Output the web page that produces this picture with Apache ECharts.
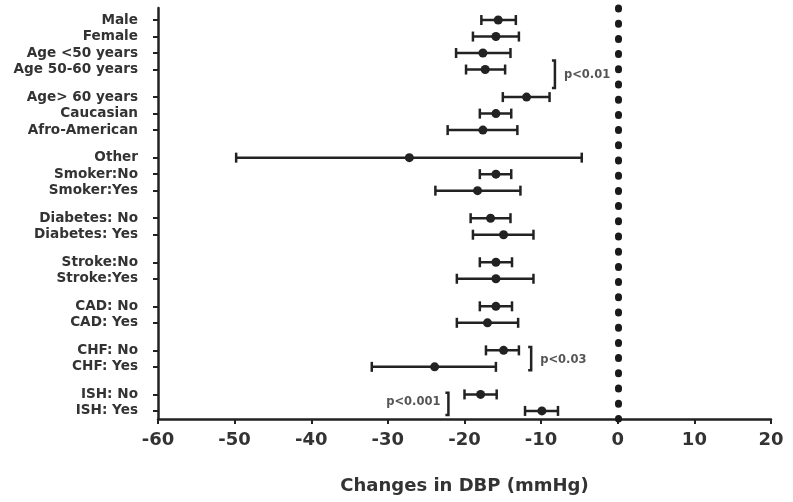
<!DOCTYPE html>
<html><head><meta charset="utf-8">
<script src="https://cdn.jsdelivr.net/npm/echarts@6/dist/echarts.min.js"></script>
<style>html,body{margin:0;padding:0;background:#fff}#c{width:793px;height:502px}</style>
</head><body><div id="c"></div>
<script>
// ---- data ----
var categories = ['Male','Female','Age <50 years','Age 50-60 years','Age> 60 years','Caucasian','Afro-American','Other','Smoker:No','Smoker:Yes','Diabetes: No','Diabetes: Yes','Stroke:No','Stroke:Yes','CAD: No','CAD: Yes','CHF: No','CHF: Yes','ISH: No','ISH: Yes'];
var groupSizes = [4,3,3,2,2,2,2,2];
var means = [-15.6,-15.9,-17.6,-17.3,-11.9,-15.9,-17.6,-27.2,-15.9,-18.3,-16.6,-14.9,-15.9,-15.9,-15.9,-17.0,-14.9,-23.9,-17.9,-9.9];
var lows  = [-17.8,-18.9,-21.1,-19.8,-15.0,-18.0,-22.2,-49.8,-18.0,-23.8,-19.2,-18.9,-18.0,-21.0,-18.0,-21.0,-17.2,-32.1,-20.0,-12.1];
var highs = [-13.3,-12.9,-14.0,-14.7,-8.9,-13.9,-13.1,-4.7,-13.9,-12.7,-14.0,-11.0,-13.8,-11.0,-13.8,-13.0,-12.9,-15.9,-15.8,-7.8];
var xTicks = [-60,-50,-40,-30,-20,-10,0,10,20];
var annLabels = ['p<0.01','p<0.03','p<0.001'];
var annX = [-8.2,-11.3,-22.1];
var annFrom = ['Age 50-60 years','CHF: No','ISH: No'];
var annTo = ['Age> 60 years','CHF: Yes','ISH: Yes'];
var xName = 'Changes in DBP (mmHg)';

// ---- layout ----
var GAP = 1.67;
var rowPos = [];
(function(){var p=0;groupSizes.forEach(function(n,g){if(g>0)p+=GAP-1;for(var i=0;i<n;i++){rowPos.push(p);p+=1;}});})();
function posOf(name){return rowPos[categories.indexOf(name)];}
var annOff = [[-0.55,-0.55],[-0.2,0.2],[-0.1,0.25]];
var annSide = ['right','right','left'];

var barData = categories.map(function(c,i){return [means[i],rowPos[i],lows[i],highs[i]];});
var annData = annLabels.map(function(l,i){return [annX[i],posOf(annFrom[i])+annOff[i][0],posOf(annTo[i])+annOff[i][1],i];});

var FONT = 'DejaVu Sans';
var chart = echarts.init(document.getElementById('c'));
chart.setOption({
  animation:false,
  grid:{left:158,right:22,top:8,bottom:83},
  xAxis:{type:'value',min:xTicks[0],max:xTicks[xTicks.length-1],interval:10,
    name:xName,nameLocation:'middle',nameGap:58,
    nameTextStyle:{fontFamily:FONT,fontSize:18,fontWeight:'bold',color:'#333'},
    axisLine:{onZero:false,lineStyle:{color:'#222',width:2.5}},
    axisTick:{show:true,length:5,lineStyle:{color:'#222',width:2}},
    axisLabel:{fontFamily:FONT,fontSize:18,color:'#333',margin:12,fontWeight:'bold'},
    splitLine:{show:false}},
  yAxis:{type:'value',inverse:true,min:-0.73,max:rowPos[rowPos.length-1]+0.49,
    axisLine:{show:true,onZero:false,lineStyle:{color:'#222',width:2.5}},
    axisTick:{show:true,length:5,customValues:rowPos,lineStyle:{color:'#222',width:2}},
    axisLabel:{customValues:rowPos,fontFamily:FONT,fontSize:13.6,fontWeight:'bold',color:'#333',margin:20,
      formatter:function(v){var best=0,d=1e9;rowPos.forEach(function(p,i){if(Math.abs(p-v)<d){d=Math.abs(p-v);best=i;}});return categories[best];}},
    splitLine:{show:false}},
  series:[
    {type:'custom',data:barData,encode:{x:[0,2,3],y:1},z:5,
     renderItem:function(params,api){
       var y=api.value(1);
       var c=api.coord([api.value(0),y]),l=api.coord([api.value(2),y]),h=api.coord([api.value(3),y]);
       var st={stroke:'#222',lineWidth:2.5};
       return {type:'group',children:[
         {type:'line',shape:{x1:l[0],y1:c[1],x2:h[0],y2:c[1]},style:st},
         {type:'line',shape:{x1:l[0],y1:c[1]-5,x2:l[0],y2:c[1]+5},style:st},
         {type:'line',shape:{x1:h[0],y1:c[1]-5,x2:h[0],y2:c[1]+5},style:st},
         {type:'circle',shape:{cx:c[0],cy:c[1],r:4.5},style:{fill:'#222'}}
       ]};
     },
     markLine:{silent:true,symbol:'none',label:{show:false},
       lineStyle:{color:'#1a1a1a',width:7,type:[1,14.2],cap:'round',opacity:1},
       data:[{xAxis:0}]}
    },
    {type:'custom',data:annData,encode:{x:0,y:[1,2]},z:4,
     renderItem:function(params,api){
       var x=api.value(0),a=api.coord([x,api.value(1)]),b=api.coord([x,api.value(2)]);
       var i=api.value(3);
       var left=annSide[i]==='left';
       return {type:'group',children:[
         {type:'polyline',shape:{points:[[a[0]-3,a[1]],[a[0],a[1]],[b[0],b[1]],[b[0]-3,b[1]]]},style:{stroke:'#222',lineWidth:2.5,fill:null}},
         {type:'text',style:{text:annLabels[i],x:left?a[0]-8:a[0]+9,y:(a[1]+b[1])/2+(left?-2:1),
           align:left?'right':'left',verticalAlign:'middle',fontFamily:FONT,fontSize:11.5,fontWeight:'bold',fill:'#555'}}
       ]};
     }}
  ]
});
</script></body></html>
